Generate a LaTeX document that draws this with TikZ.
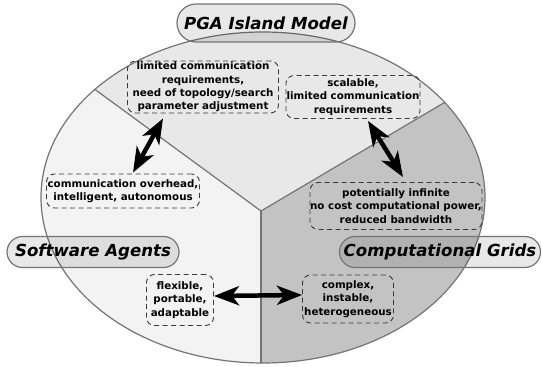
\documentclass[tikz,border=0pt]{standalone}
\usepackage{fontspec}
\setmainfont{DejaVu Sans}
\usetikzlibrary{arrows.meta,calc,shapes.misc}

\definecolor{sectop}{HTML}{E8E8E8}
\definecolor{secleft}{HTML}{F3F3F3}
\definecolor{secright}{HTML}{C3C3C3}
\definecolor{rim}{HTML}{747474}
\definecolor{dashline}{HTML}{3A3A3A}

\tikzset{
  pill/.style={rounded rectangle, draw=rim, line width=1.2pt,
    fill=black, fill opacity=0.09, text opacity=1,
    font=\fontsize{16.6}{18}\selectfont\bfseries\itshape, inner sep=0pt},
  note/.style={rectangle, rounded corners=8pt, draw=dashline, line width=0.9pt,
    dash pattern=on 5pt off 3.5pt, align=center, inner sep=0pt,
    font=\fontsize{10.3}{13.3}\selectfont\bfseries},
  link/.style={line width=4.5pt, {Stealth[length=25pt,width=19pt,inset=7pt]}-{Stealth[length=25pt,width=19pt,inset=7pt]}},
  divider/.style={draw=rim, line width=1.2pt}
}

\begin{document}
\begin{tikzpicture}[x=1pt,y=-1pt]
  \useasboundingbox[fill=white] (0,0) rectangle (542,367);

  % the three sectors of the ellipse
  \coordinate (C) at (261,211);
  \coordinate (UL) at (-75,-35);
  \coordinate (UR) at (633,-9);
  \coordinate (D) at (261,450);
  \begin{scope}
    \clip (263,197.5) ellipse [x radius=222pt, y radius=165.5pt];
    \fill[sectop] (C) -- (UL) -- (-75,-100) -- (633,-100) -- (UR) -- cycle;
    \fill[secleft] (C) -- (UL) -- (-75,450) -- (D) -- cycle;
    \fill[secright] (C) -- (UR) -- (633,450) -- (D) -- cycle;
    \draw[divider] (UL) -- (C) -- (UR);
    \draw[divider] (C) -- (D);
  \end{scope}
  \draw[draw=rim, line width=1.2pt] (263,197.5) ellipse [x radius=222pt, y radius=165.5pt];

  % notes
  \node[note, minimum width=151pt, minimum height=52pt] (b1) at (203,87)
    {limited communication\\requirements,\\need of topology/search\\parameter adjustment};
  \node[note, minimum width=134pt, minimum height=43pt] (b2) at (353,97)
    {scalable,\\limited communication\\requirements};
  \node[note, minimum width=153pt, minimum height=34pt] (b3) at (123,191)
    {communication overhead,\\intelligent, autonomous};
  \node[note, minimum width=172pt, minimum height=47pt] (b4) at (396,206)
    {potentially infinite\\no cost computational power,\\reduced bandwidth};
  \node[note, minimum width=67pt, minimum height=51pt] (b5) at (180,300)
    {flexible,\\portable,\\adaptable};
  \node[note, minimum width=91pt, minimum height=48pt] (b6) at (348,299)
    {complex,\\instable,\\heterogeneous};

  % relations between the notes
  \draw[link] ([xshift=-40pt,yshift=-5pt]b1.south) -- ([xshift=10pt,yshift=1pt]b3.north);
  \draw[link] ([xshift=15pt,yshift=-2pt]b2.south) -- ([xshift=7pt,yshift=5pt]b4.north);
  \draw[link] ([yshift=4pt]b5.east) -- ([yshift=4pt]b6.west);

  % titles
  \node[pill, minimum width=178pt, minimum height=38pt] (pga) at (266,23) {PGA Island Model};
  \node[pill, minimum width=172pt, minimum height=31pt] (sa) at (93,252) {Software Agents};
  \node[pill, minimum width=201pt, minimum height=31pt] (cg) at (440,252) {Computational Grids};
\end{tikzpicture}
\end{document}
